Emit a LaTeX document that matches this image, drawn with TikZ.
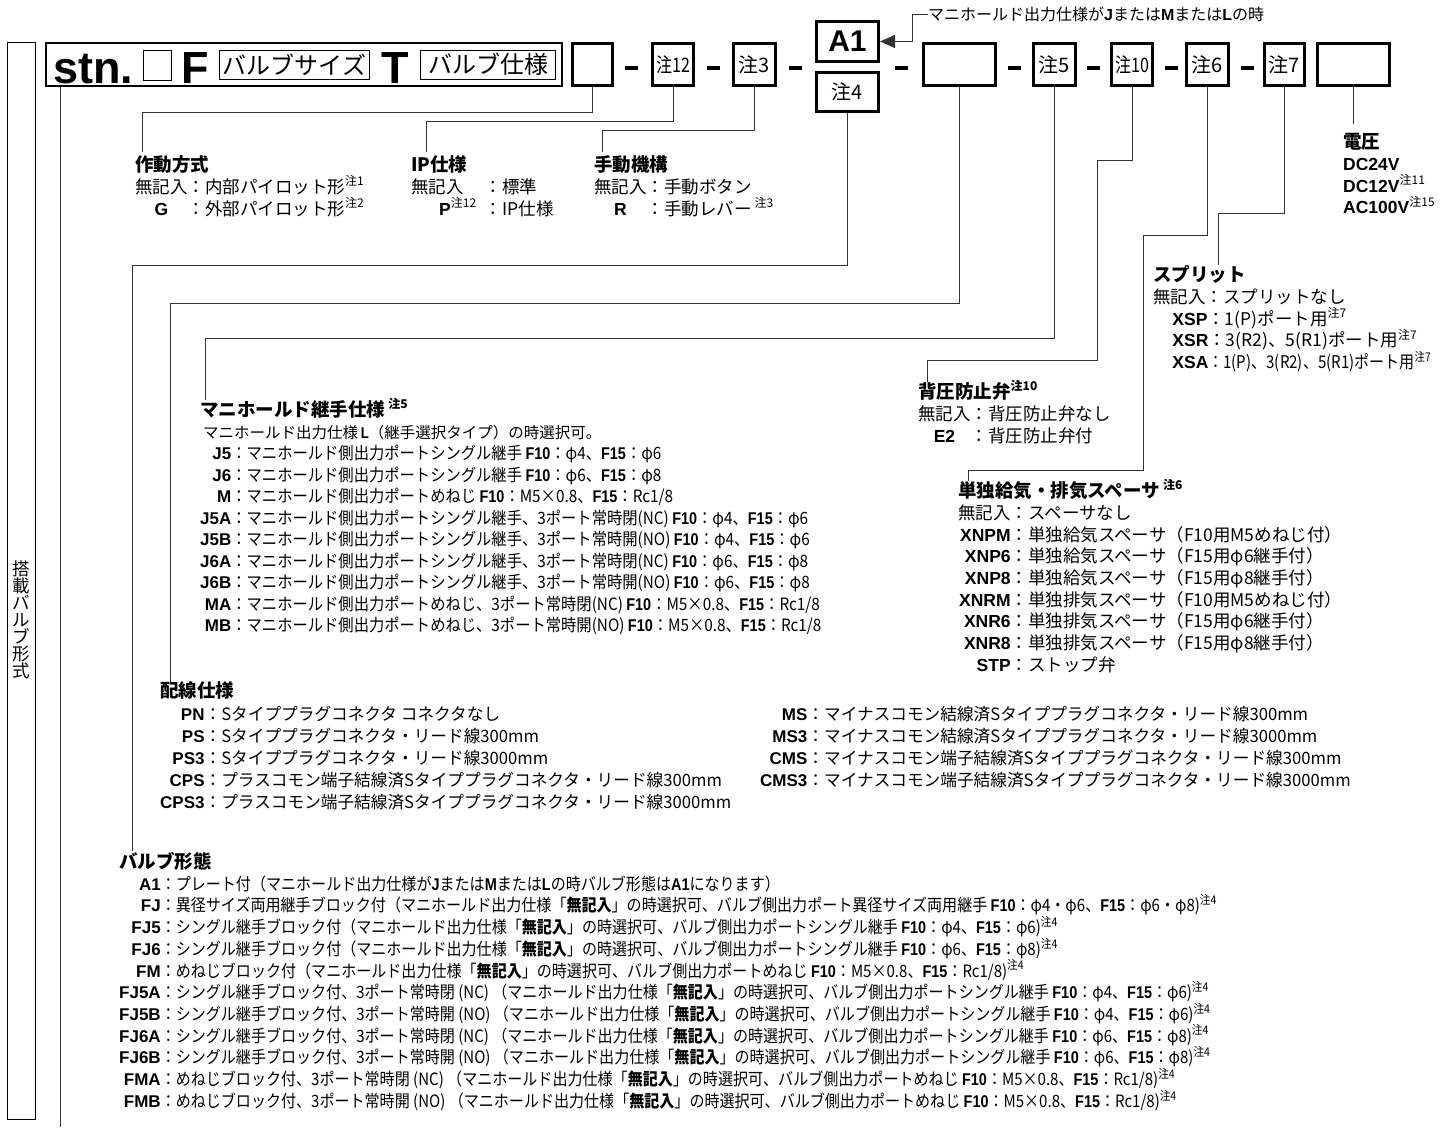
\documentclass[tikz,border=0pt]{standalone}
\usepackage{fontspec}
\setmainfont{Noto Sans CJK JP}
\newfontfamily\hv{Liberation Sans}
\newfontfamily\cnda[FakeStretch=0.9]{Noto Sans CJK JP}
\newfontfamily\cndb[FakeStretch=0.885]{Noto Sans CJK JP}
\newfontfamily\cndw[FakeStretch=0.98]{Noto Sans CJK JP}
\newfontfamily\cndc[FakeStretch=0.86]{Noto Sans CJK JP}
\newfontfamily\hvc[FakeStretch=0.85]{Liberation Sans}
\usetikzlibrary{arrows.meta}
\newcommand\chu[1]{\raisebox{0.42em}[0pt][0pt]{\fontsize{12}{12}\selectfont 注#1}}
\newcommand\hd[1]{{\rmfamily\fontsize{18.5}{18.5}\selectfont\bfseries #1}}
\newcommand\bd[1]{{\hv\bfseries #1}}
\newcommand\cd[1]{{\hvc\bfseries #1}}
\newcommand\mgk{マニホールド側出力ポート}
\newcommand\mfm{（マニホールド出力仕様「\textbf{無記入}」の時選択可、バルブ側出力ポート}
\newcommand\nc[1]{3ポート常時#1}
\begin{document}
\begin{tikzpicture}[x=1pt,y=-1pt,
  conn/.style={draw=black!80, line width=1pt},
  rbox/.style={draw, line width=2.6pt, inner sep=0pt, minimum height=42.5pt, font=\fontsize{20}{20}\selectfont},
  tbox/.style={draw, line width=0.9pt, inner sep=0pt},
  dsh/.style={fill, inner sep=0pt, minimum width=13pt, minimum height=4.5pt},
  big/.style={anchor=base west, inner sep=0pt, font=\hv\bfseries\fontsize{45}{45}\selectfont},
  blk/.style={anchor=base west, inner sep=0pt, font=\fontsize{17.5}{21.7}\selectfont},
  cblka/.style={anchor=base west, inner sep=0pt, font=\cnda\fontsize{17}{21.5}\selectfont},
  cblkw/.style={anchor=base west, inner sep=0pt, font=\cndw\fontsize{17}{22}\selectfont},
  cblkb/.style={anchor=base west, inner sep=0pt, font=\cndb\fontsize{17}{21.7}\selectfont}]
\useasboundingbox (0,0) rectangle (1456,1128);

% left label
\node[tbox, minimum width=28pt, minimum height=1077pt] (lbox) at (21.5,581) {};
\node[font=\fontsize{17.5}{17}\selectfont, align=center, inner sep=0pt] (ltxt) at (21.5,620) {搭\\載\\バ\\ル\\ブ\\形\\式};

% model code
\node[draw, line width=2pt, minimum width=516pt, minimum height=43pt, inner sep=0pt] (stnbox) at (304,64.5) {};
\node[big] (stn) at (53,83) {stn.};
\node[tbox, minimum width=28pt, minimum height=30pt] (sq) at (157,65) {};
\node[big] (ff) at (181,83) {F};
\node[tbox, minimum width=150pt, minimum height=29pt, font=\fontsize{24}{24}\selectfont] (vsize) at (294.5,64.5) {バルブサイズ};
\node[big] (tt) at (381,83) {T};
\node[tbox, minimum width=135pt, minimum height=29pt, font=\fontsize{24}{24}\selectfont] (vspec) at (488,64.5) {バルブ仕様};

\node[rbox, minimum width=40.5pt] (v1) at (592.5,64.5) {};
\node[rbox, minimum width=41.5pt] (n12) at (673,64.5) {\scalebox{0.8}[1]{注12}};
\node[rbox, minimum width=42.5pt] (n3) at (754.5,64.5) {注3};
\node[rbox, minimum width=62.5pt, minimum height=40.5pt, font=\hv\bfseries\fontsize{30}{30}\selectfont] (a1) at (847.5,41.5) {A1};
\node[rbox, minimum width=62.5pt, minimum height=38.5pt] (n4) at (847.5,92) {注4};
\node[rbox, minimum width=72.5pt] (v2) at (959.5,64.5) {};
\node[rbox, minimum width=42.5pt] (n5) at (1054.5,64.5) {注5};
\node[rbox, minimum width=41.5pt] (n10) at (1132,64.5) {\scalebox{0.8}[1]{注10}};
\node[rbox, minimum width=42.5pt] (n6) at (1207.5,64.5) {注6};
\node[rbox, minimum width=40.5pt] (n7) at (1284.5,64.5) {注7};
\node[rbox, minimum width=72.5pt] (v3) at (1353.5,64.5) {};
\foreach \x [count=\i] in {631,713,795,901,1014,1093,1171,1247}
  \node[dsh] (d\i) at (\x,68) {};

% note on A1
\node[anchor=west, inner sep=0pt, font=\fontsize{16}{16}\selectfont] (note) at (928,14.5) {マニホールド出力仕様が\bd{J}または\bd{M}または\bd{L}の時};
\coordinate (k0) at (912,41.5);
\draw[conn, -{Triangle[length=15pt,width=13pt]}] (note.west) -| (k0) -- (a1.east);

% connectors
\coordinate (k1) at (142,112);  \coordinate (t1) at (142,152);
\coordinate (k12) at (426,121); \coordinate (t12) at (426,152);
\coordinate (k3) at (602,130);  \coordinate (t3) at (602,152);
\coordinate (k4) at (132,265);  \coordinate (t4) at (132,851);
\coordinate (k2) at (170,303);  \coordinate (t2) at (170,682);
\coordinate (k5) at (205,338);  \coordinate (t5) at (205,400);
\coordinate (k10a) at (1097,160); \coordinate (k10b) at (927,360); \coordinate (t10) at (927,382);
\coordinate (k6a) at (1143,235); \coordinate (k6b) at (968,470); \coordinate (t6) at (968,481);
\coordinate (k7) at (1218,213); \coordinate (t7) at (1218,265);
\coordinate (tv3) at (1353,124);
\coordinate (s0) at (60,1127);
\draw[conn] (stnbox.south -| s0) -- (s0);
\draw[conn] (v1.south) |- (k1) -- (t1);
\draw[conn] (n12.south) |- (k12) -- (t12);
\draw[conn] (n3.south) |- (k3) -- (t3);
\draw[conn] (n4.south) |- (k4) -- (t4);
\draw[conn] (v2.south) |- (k2) -- (t2);
\draw[conn] (n5.south) |- (k5) -- (t5);
\draw[conn] (n10.south) |- (k10a) |- (k10b) -- (t10);
\draw[conn] (n6.south) |- (k6a) |- (k6b) -- (t6);
\draw[conn] (n7.south) |- (k7) -- (t7);
\draw[conn] (v3.south) -- (v3.south |- tv3);

% option blocks
\node[blk] (sadou) at (135,171.6) {\begin{tabular}[t]{@{}c@{：}l@{}}
\multicolumn{2}{@{}l@{}}{\hd{作動方式}}\\
無記入 & 内部パイロット形\chu1\\
\bd{G} & 外部パイロット形\chu2
\end{tabular}};
\node[blk] (ipsp) at (411,171.6) {\begin{tabular}[t]{@{}l@{\hspace{0.5em}：}l@{}}
\multicolumn{2}{@{}l@{}}{\hd{IP仕様}}\\
無記入 & 標準\\
\hspace{1.6em}\bd{P}\chu{12} & IP仕様
\end{tabular}};
\node[blk] (shudo) at (594,171.6) {\begin{tabular}[t]{@{}c@{：}l@{}}
\multicolumn{2}{@{}l@{}}{\hd{手動機構}}\\
無記入 & 手動ボタン\\
\bd{R} & 手動レバー\,\chu3
\end{tabular}};
\node[blk] (denatsu) at (1343,148.6) {\begin{tabular}[t]{@{}l@{}}
\hd{電圧}\\
\bd{DC24V}\\
\bd{DC12V}\chu{11}\\
\bd{AC100V}\chu{15}
\end{tabular}};
\node[blk] (split) at (1153,281.6) {\begin{tabular}[t]{@{}l@{}}
\hd{スプリット}\\
無記入：スプリットなし\\
\hspace{1.1em}\bd{XSP}：1(P)ポート用\chu7\\
\hspace{1.1em}\bd{XSR}：3(R2)、5(R1)ポート用\chu7\\
\hspace{1.1em}\bd{XSA}{\cndc ：1(P)、3(R2)、5(R1)ポート用\chu7}
\end{tabular}};
\node[blk] (haiatsu) at (918,398.6) {\begin{tabular}[t]{@{}c@{：}l@{}}
\multicolumn{2}{@{}l@{}}{\hd{背圧防止弁\chu{10}}}\\
無記入 & 背圧防止弁なし\\
\bd{E2} & 背圧防止弁付
\end{tabular}};
\node[blk] (spacer) at (958,497.6) {\begin{tabular}[t]{@{}r@{：}l@{}}
\multicolumn{2}{@{}l@{}}{\hd{単独給気・排気スペーサ\,\chu6}}\\
無記入 & スペーサなし\\
\bd{XNPM} & 単独給気スペーサ（F10用M5めねじ付）\\
\bd{XNP6} & 単独給気スペーサ（F15用φ6継手付）\\
\bd{XNP8} & 単独給気スペーサ（F15用φ8継手付）\\
\bd{XNRM} & 単独排気スペーサ（F10用M5めねじ付）\\
\bd{XNR6} & 単独排気スペーサ（F15用φ6継手付）\\
\bd{XNR8} & 単独排気スペーサ（F15用φ8継手付）\\
\bd{STP} & ストップ弁
\end{tabular}};
\node[cblka] (tsugite) at (200,416.5) {\begin{tabular}[t]{@{}r@{：}l@{}}
\multicolumn{2}{@{}l@{}}{\hd{マニホールド継手仕様\,\chu5}}\\
\multicolumn{2}{@{}l@{}}{\hspace{3pt}\rmfamily\fontsize{15.5}{15.5}\selectfont マニホールド出力仕様\,\cd{L}（継手選択タイプ）の時選択可。}\\
\bd{J5} & \mgk シングル継手 \cd{F10}：φ4、\cd{F15}：φ6\\
\bd{J6} & \mgk シングル継手 \cd{F10}：φ6、\cd{F15}：φ8\\
\bd{M} & \mgk めねじ \cd{F10}：M5×0.8、\cd{F15}：Rc1/8\\
\bd{J5A} & \mgk シングル継手、3ポート常時閉(NC) \cd{F10}：φ4、\cd{F15}：φ6\\
\bd{J5B} & \mgk シングル継手、3ポート常時開(NO) \cd{F10}：φ4、\cd{F15}：φ6\\
\bd{J6A} & \mgk シングル継手、3ポート常時閉(NC) \cd{F10}：φ6、\cd{F15}：φ8\\
\bd{J6B} & \mgk シングル継手、3ポート常時開(NO) \cd{F10}：φ6、\cd{F15}：φ8\\
\bd{MA} & \mgk めねじ、3ポート常時閉(NC) \cd{F10}：M5×0.8、\cd{F15}：Rc1/8\\
\bd{MB} & \mgk めねじ、3ポート常時開(NO) \cd{F10}：M5×0.8、\cd{F15}：Rc1/8
\end{tabular}};
\node[cblkw] (haisen) at (160,697.5) {\begin{tabular}[t]{@{}r@{：}l@{}}
\multicolumn{2}{@{}l@{}}{\hd{配線仕様}}\\[1pt]
\bd{PN} & Sタイププラグコネクタ コネクタなし\\
\bd{PS} & Sタイププラグコネクタ・リード線300mm\\
\bd{PS3} & Sタイププラグコネクタ・リード線3000mm\\
\bd{CPS} & プラスコモン端子結線済Sタイププラグコネクタ・リード線300mm\\
\bd{CPS3} & プラスコモン端子結線済Sタイププラグコネクタ・リード線3000mm
\end{tabular}};
\node[cblkw] (haisenR) at (760,720.5) {\begin{tabular}[t]{@{}r@{：}l@{}}
\bd{MS} & マイナスコモン結線済Sタイププラグコネクタ・リード線300mm\\
\bd{MS3} & マイナスコモン結線済Sタイププラグコネクタ・リード線3000mm\\
\bd{CMS} & マイナスコモン端子結線済Sタイププラグコネクタ・リード線300mm\\
\bd{CMS3} & マイナスコモン端子結線済Sタイププラグコネクタ・リード線3000mm
\end{tabular}};
\node[cblkb] (keitai) at (119,868.5) {\begin{tabular}[t]{@{}r@{：}l@{}}
\multicolumn{2}{@{}l@{}}{\hd{バルブ形態}}\\
\bd{A1} & プレート付（マニホールド出力仕様が\cd{J}または\cd{M}または\cd{L}の時バルブ形態は\cd{A1}になります）\\
\bd{FJ} & 異径サイズ両用継手ブロック付\mfm 異径サイズ両用継手 \cd{F10}：φ4・φ6、\cd{F15}：φ6・φ8)\chu4\\
\bd{FJ5} & シングル継手ブロック付\mfm シングル継手 \cd{F10}：φ4、\cd{F15}：φ6)\chu4\\
\bd{FJ6} & シングル継手ブロック付\mfm シングル継手 \cd{F10}：φ6、\cd{F15}：φ8)\chu4\\
\bd{FM} & めねじブロック付\mfm めねじ \cd{F10}：M5×0.8、\cd{F15}：Rc1/8)\chu4\\
\bd{FJ5A} & シングル継手ブロック付、\nc{閉 (NC) }\mfm シングル継手 \cd{F10}：φ4、\cd{F15}：φ6)\chu4\\
\bd{FJ5B} & シングル継手ブロック付、\nc{開 (NO) }\mfm シングル継手 \cd{F10}：φ4、\cd{F15}：φ6)\chu4\\
\bd{FJ6A} & シングル継手ブロック付、\nc{閉 (NC) }\mfm シングル継手 \cd{F10}：φ6、\cd{F15}：φ8)\chu4\\
\bd{FJ6B} & シングル継手ブロック付、\nc{開 (NO) }\mfm シングル継手 \cd{F10}：φ6、\cd{F15}：φ8)\chu4\\
\bd{FMA} & めねじブロック付、\nc{閉 (NC) }\mfm めねじ \cd{F10}：M5×0.8、\cd{F15}：Rc1/8)\chu4\\
\bd{FMB} & めねじブロック付、\nc{開 (NO) }\mfm めねじ \cd{F10}：M5×0.8、\cd{F15}：Rc1/8)\chu4
\end{tabular}};
\end{tikzpicture}
\end{document}
